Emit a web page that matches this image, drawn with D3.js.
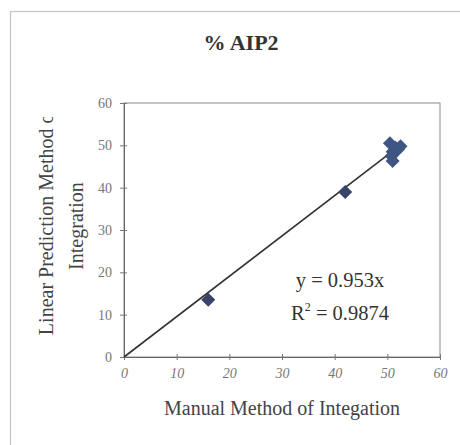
<!DOCTYPE html>
<html><head><meta charset="utf-8">
<script src="https://cdn.jsdelivr.net/npm/d3@7"></script>
<style>body{margin:0;background:#fff}svg{display:block}text{font-family:"Liberation Serif","Times New Roman",serif}</style>
</head><body><svg id="c" width="460" height="445"></svg>
<script>
const manual = [16, 42, 50.5, 51.5, 52.5, 51, 52, 50.8, 51];
const linear = [13.5, 39, 50.5, 49.5, 49.8, 48.5, 49, 47.5, 46.3];
const xTicks = [0, 10, 20, 30, 40, 50, 60];
const yTicks = [0, 10, 20, 30, 40, 50, 60];
const slope = 0.953;
const title = "% AIP2";
const xTitle = "Manual Method of Integation";
const yTitle = ["Linear Prediction Method of", "Integration"];
const eqLines = ["y = 0.953x", "R", "2", " = 0.9874"];

const svg = d3.select("#c");
const L = 124, R = 440, T = 103, B = 357;
const x = d3.scaleLinear().domain([0, 60]).range([L, R]);
const y = d3.scaleLinear().domain([0, 60]).range([B, T]);

svg.append("rect").attr("x", 10.5).attr("y", 11.5).attr("width", 470).attr("height", 450)
  .attr("fill", "#fff").attr("stroke", "#c4c4c4").attr("stroke-width", 1.2);

svg.append("text").attr("x", 241).attr("y", 50).attr("text-anchor", "middle")
  .attr("font-size", 22).attr("font-weight", "bold").attr("fill", "#333").text(title);

// plot frame
svg.append("rect").attr("x", L).attr("y", T).attr("width", R - L).attr("height", B - T)
  .attr("fill", "none").attr("stroke", "#8a8a8a").attr("stroke-width", 1);

const xa = svg.append("g").attr("transform", `translate(0,${B})`)
  .call(d3.axisBottom(x).tickValues(xTicks).tickSizeInner(3).tickSizeOuter(0).tickPadding(8));
const ya = svg.append("g").attr("transform", `translate(${L},0)`)
  .call(d3.axisLeft(y).tickValues(yTicks).tickSizeInner(4).tickSizeOuter(0).tickPadding(8));
[xa, ya].forEach(a => {
  a.select(".domain").attr("stroke", "#666");
  a.selectAll(".tick line").attr("stroke", "#777");
  a.selectAll(".tick text").attr("font-family", '"Liberation Serif",serif')
    .attr("font-size", 14).attr("fill", "#777");
});
xa.selectAll(".tick").append("line").attr("y2", -3).attr("stroke", "#777");
ya.selectAll(".tick").append("line").attr("x2", 3).attr("stroke", "#777");
xa.selectAll(".tick text").attr("font-style", "italic");

// trendline
const xmax = d3.max(manual);
svg.append("line").attr("x1", x(0)).attr("y1", y(0)).attr("x2", x(xmax)).attr("y2", y(slope * xmax))
  .attr("stroke", "#333").attr("stroke-width", 1.6);

// markers
const sym = d3.symbol().type(d3.symbolDiamond2).size(125);
svg.append("g").selectAll("path").data(manual.map((m, i) => [m, linear[i]])).join("path")
  .attr("d", sym).attr("transform", d => `translate(${x(d[0])},${y(d[1])})`)
  .attr("fill", (d, i) => i < 2 ? "#3a4368" : "#3f5583");

// equation
svg.append("text").attr("x", 340).attr("y", 287).attr("text-anchor", "middle")
  .attr("font-size", 20.5).attr("fill", "#333").text(eqLines[0]);
const r2 = svg.append("text").attr("x", 340).attr("y", 320).attr("text-anchor", "middle")
  .attr("font-size", 20.5).attr("fill", "#333");
r2.append("tspan").text(eqLines[1]);
r2.append("tspan").attr("dy", -9).attr("font-size", 12).text(eqLines[2]);
r2.append("tspan").attr("dy", 9).text(eqLines[3]);

// axis titles
svg.append("text").attr("x", 282).attr("y", 415).attr("text-anchor", "middle")
  .attr("font-size", 20).attr("fill", "#444").text(xTitle);

svg.append("clipPath").attr("id", "yc").append("rect").attr("x", 0).attr("y", 117).attr("width", 120).attr("height", 330);
const yt = svg.append("g").attr("clip-path", "url(#yc)");
yt.append("text").attr("transform", "translate(53,221) rotate(-90)").attr("text-anchor", "middle")
  .attr("font-size", 20).attr("fill", "#444").text(yTitle[0]);
yt.append("text").attr("transform", "translate(83,226) rotate(-90)").attr("text-anchor", "middle")
  .attr("font-size", 20).attr("fill", "#444").text(yTitle[1]);
</script></body></html>
